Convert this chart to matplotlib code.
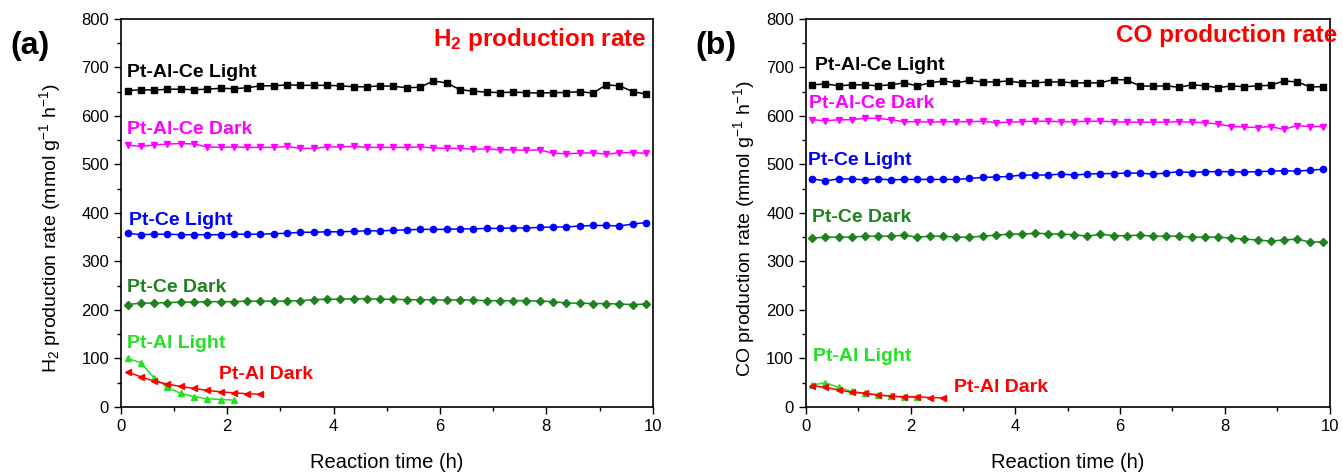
import matplotlib
matplotlib.use("Agg")
import matplotlib.pyplot as plt
import numpy as np
from matplotlib.ticker import MultipleLocator

plt.rcParams['font.family'] = ['Liberation Sans', 'DejaVu Sans']
plt.rcParams['mathtext.default'] = 'regular'

# sampling times (h), one point every 15 min
t_long = np.arange(40) * 0.25 + 0.125
t_al_light = t_long[:9]
t_al_dark = t_long[:11]

# H2 production rate (mmol g-1 h-1)
h2_alce_light = [652, 654, 653, 655, 655, 654, 655, 657, 656, 658, 662, 662, 664, 663, 663, 663, 662, 660, 660, 662,
                 661, 658, 659, 672, 668, 654, 651, 649, 648, 649, 648, 647, 648, 648, 650, 647, 664, 662, 650, 645]
h2_alce_dark = [540, 537, 540, 542, 543, 542, 536, 535, 536, 535, 535, 535, 537, 533, 533, 536, 536, 537, 535, 535,
                535, 535, 536, 534, 533, 533, 531, 532, 530, 530, 529, 530, 523, 522, 523, 524, 521, 524, 524, 523]
h2_ce_light = [358, 355, 356, 356, 355, 355, 355, 355, 356, 356, 356, 357, 358, 360, 360, 361, 361, 362, 363, 363,
               364, 365, 366, 366, 366, 367, 367, 368, 368, 369, 369, 370, 371, 371, 373, 374, 374, 373, 377, 380]
h2_ce_dark = [211, 214, 214, 215, 216, 216, 217, 217, 217, 218, 218, 218, 218, 219, 221, 222, 222, 223, 223, 222,
              222, 221, 221, 221, 220, 221, 220, 219, 219, 219, 219, 218, 217, 214, 214, 213, 213, 212, 211, 212]
h2_al_light = [100, 91, 60, 40, 28, 21, 17, 15, 14]
h2_al_dark = [72, 62, 53, 47, 42, 38, 34, 31, 29, 27, 26]

# CO production rate (mmol g-1 h-1)
co_alce_light = [664, 666, 662, 664, 664, 662, 664, 668, 662, 668, 672, 668, 673, 670, 670, 672, 668, 668, 670, 670,
                 668, 668, 668, 675, 674, 662, 661, 662, 659, 664, 662, 658, 662, 660, 662, 663, 672, 670, 660, 660]
co_alce_dark = [592, 590, 592, 592, 595, 595, 592, 588, 588, 587, 588, 588, 588, 589, 586, 587, 588, 589, 589, 588,
                588, 589, 589, 588, 587, 587, 587, 587, 588, 587, 586, 583, 578, 577, 576, 578, 572, 580, 578, 578]
co_ce_light = [470, 466, 470, 470, 468, 470, 468, 469, 469, 469, 469, 469, 471, 473, 474, 475, 478, 478, 478, 480,
               478, 480, 481, 481, 482, 482, 480, 482, 485, 483, 485, 485, 485, 484, 485, 486, 487, 486, 488, 490]
co_ce_dark = [348, 350, 350, 350, 352, 352, 352, 354, 350, 352, 352, 350, 350, 352, 354, 356, 356, 358, 357, 356,
              355, 352, 356, 353, 353, 354, 352, 352, 352, 350, 350, 350, 348, 346, 344, 342, 344, 346, 340, 340]
co_al_light = [45, 50, 40, 32, 28, 24, 22, 20, 20]
co_al_dark = [44, 40, 35, 30, 28, 25, 22, 21, 21, 19, 19]

names = ['Pt-Al-Ce Light', 'Pt-Al-Ce Dark', 'Pt-Ce Light', 'Pt-Ce Dark', 'Pt-Al Light', 'Pt-Al Dark']
colors = ['black', '#ff00ff', '#0000ff', '#1e821e', '#22e022', '#ff0000']
markers = ['s', 'v', 'o', 'D', '^', '<']
msizes = [4.5, 5, 4.5, 4, 5, 5]

fig = plt.figure(figsize=(13.43, 4.72), dpi=100)
ax_a = fig.add_axes([0.090, 0.138, 0.396, 0.822])
ax_b = fig.add_axes([0.600, 0.138, 0.390, 0.822])


def draw_panel(ax, series, label_pos, ylabel, ylabel_x, title, title_xy):
    times = [t_long, t_long, t_long, t_long, t_al_light, t_al_dark]
    for x, y, c, m, ms in zip(times, series, colors, markers, msizes):
        ax.plot(x, y, color=c, marker=m, markersize=ms, lw=1.1)
    for name, c, (lx, ly) in zip(names, colors, label_pos):
        ax.text(lx, ly, name, color=c, fontsize=14, fontweight='bold', va='center', ha='left')
    ax.text(title_xy[0], title_xy[1], title, color='#ff0000', fontsize=17.5, fontweight='bold',
            ha='right', va='center', clip_on=False)
    ax.set_xlim(0, 10)
    ax.set_ylim(0, 800)
    ax.xaxis.set_major_locator(MultipleLocator(2))
    ax.xaxis.set_minor_locator(MultipleLocator(1))
    ax.yaxis.set_major_locator(MultipleLocator(100))
    ax.yaxis.set_minor_locator(MultipleLocator(50))
    ax.tick_params(which='both', direction='out', labelsize=12, width=1)
    ax.tick_params(which='major', length=5)
    ax.tick_params(which='minor', length=3)
    for s in ax.spines.values():
        s.set_linewidth(1.2)
    ax.set_xlabel('Reaction time (h)', fontsize=14.5, labelpad=14)
    ax.set_ylabel(ylabel, fontsize=14)
    ax.yaxis.set_label_coords(ylabel_x, 0.46)


draw_panel(ax_a,
           [h2_alce_light, h2_alce_dark, h2_ce_light, h2_ce_dark, h2_al_light, h2_al_dark],
           [(0.12, 690), (0.12, 572), (0.15, 385), (0.12, 247), (0.12, 131), (1.84, 66)],
           'H$_2$ production rate (mmol g$^{-1}$ h$^{-1}$)', -0.108,
           'H$_2$ production rate', (9.88, 757))

draw_panel(ax_b,
           [co_alce_light, co_alce_dark, co_ce_light, co_ce_dark, co_al_light, co_al_dark],
           [(0.17, 703), (0.06, 625), (0.04, 509), (0.11, 390), (0.13, 103), (2.83, 39)],
           'CO production rate (mmol g$^{-1}$ h$^{-1}$)', -0.094,
           'CO production rate', (10.15, 765))

fig.text(0.008, 0.903, '(a)', fontsize=23, fontweight='bold', va='center')
fig.text(0.518, 0.903, '(b)', fontsize=23, fontweight='bold', va='center')

fig.savefig('out.png', dpi=100)
